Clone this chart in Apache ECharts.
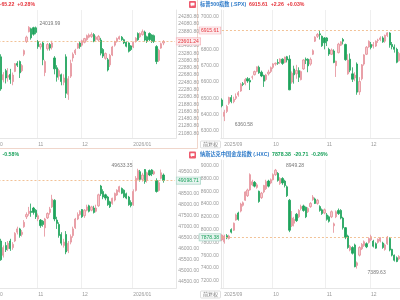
<!DOCTYPE html>
<html><head><meta charset="utf-8">
<script src="https://cdn.jsdelivr.net/npm/echarts@6/dist/echarts.min.js"></script>
<style>html,body{margin:0;padding:0;background:#fff;width:400px;height:300px;overflow:hidden;position:relative}
#c{position:absolute;left:-40px;top:0;width:460px;height:300px}</style>
</head><body><div id="c"></div>
<script>
// ---- trading calendar ----
const SEP = [2,3,4,5,8,9,10,11,12,15,16,17,18,19,22,23,24,25,26,29,30];
const OCT = [1,2,3,6,7,8,9,10,13,14,15,16,17,20,21,22,23,24,27,28,29,30,31];
const NOV = [3,4,5,6,7,10,11,12,13,14,17,18,19,20,21,24,25,26,28];
const DEC = [1,2,3,4,5,8,9,10,11,12,15,16,17,18,19,22,23,24,26,29,30,31];
const JAN = [2,5,6,7,8,9,12,13,14,15,16,20,21,22];
function days(ym, list){ return list.map(d => ym + '/' + String(d).padStart(2,'0')); }
const leftDates = ['2025/09/30'].concat(days('2025/10',OCT), days('2025/11',NOV), days('2025/12',DEC), days('2026/01',JAN));
const rightDates = ['2025/08/29'].concat(days('2025/09',SEP), days('2025/10',OCT), days('2025/11',NOV), days('2025/12',DEC.slice(0,13)));

// ---- Nasdaq Composite (.IXIC) [open, close, low, high], from 2025/10/10 ----
const ixicFirst = '2025/10/10';
const ixicOHLC = [
[23180,22300,22250,23250],[22550,22690,22480,22760],[22800,22600,22450,22850],[22620,22670,22500,22870],
[22700,22560,22440,22850],[22500,22680,22400,22750],[22780,22990,22760,23010],[23000,22950,22900,23060],
[23050,22740,22600,23080],[22800,22940,22760,22980],[23250,23350,23200,23380],[23600,23720,23560,23760],
[23870,23990,23850,24019.99],[23950,23700,23650,23980],[23980,23800,23760,24005],[23975,23850,23800,24010],
[23600,23460,23400,23640],[23450,23520,23380,23560],[23560,23100,22950,23600],[22750,23050,22650,23100],
[23400,23520,23350,23560],[23520,23420,23350,23560],[23440,23560,23380,23620],[23150,22850,22700,23200],
[22880,22620,22500,22950],[22650,22800,22550,22850],[22690,22500,22400,22720],[22480,22600,22400,22700],
[23180,22180,22050,23250],[22150,22580,22000,22650],[22650,23000,22600,23100],[23150,23250,23050,23300],
[23280,23360,23230,23400],[23420,23540,23400,23560],[23560,23460,23400,23600],[23500,23620,23460,23650],
[23580,23680,23550,23700],[23650,23760,23620,23790],[23720,23780,23690,23820],[23740,23790,23700,23850],
[23790,23610,23580,23830],[23660,23720,23620,23760],[23640,23740,23600,23780],[23640,23280,23220,23700],
[23380,23200,23150,23420],[23140,23270,23100,23300],[23100,22820,22780,23150],[22960,23220,22900,23260],
[23230,23450,23200,23480],[23500,23590,23460,23620],[23600,23680,23570,23710],[23670,23730,23650,23760],
[23720,23650,23620,23750],[23650,23560,23530,23680],[23580,23470,23440,23600],[23560,23330,23300,23580],
[23480,23380,23340,23500],[23450,23580,23420,23600],[23600,23690,23570,23720],[23820,23650,23620,23850],
[23730,23820,23700,23850],[23790,23870,23760,23930],[23860,23640,23600,23900],[23730,23600,23560,23760],
[23820,23650,23610,23850],[23780,23600,23560,23800],[23760,23600,23560,23790],[23460,23050,22980,23500],
[23080,23360,23040,23400],[23420,23540,23400,23570],[23560,23601.24,23500,23640]
];
const ixicTicks = [21080.8,21280.8,21480.8,21680.8,21880.8,22080.8,22280.8,22480.8,22680.8,22880.8,23080.8,23280.8,23480.8,23680.8,23880.8,24080.8,24280.8];

// ---- Dow Jones (.DJI), from 2025/10/10 ----
const djiFirst = '2025/10/10';
const djiOHLC = [
[46350,45500,45450,46450],[45700,46050,45600,46150],[46150,45950,45850,46300],[46000,46250,45900,46350],
[46350,46000,45900,46450],[46050,46200,45950,46300],[46350,46700,46300,46750],[46750,46900,46650,47000],
[46900,46600,46500,46950],[46650,46750,46550,46850],[47000,47200,46950,47300],[47450,47550,47350,47650],
[47600,47700,47500,47900],[47700,47650,47450,48050],[47850,47650,47550,47900],[47750,47450,47350,47800],
[47350,47500,47250,47600],[47300,47050,46950,47350],[47250,47100,47000,47300],[46950,47350,46550,47400],
[47400,47600,47350,47650],[47650,47800,47550,47900],[47900,48250,47850,48450],[48200,47350,47250,48250],
[47300,47150,46900,47450],[47100,46600,46500,47200],[46650,46250,46150,46750],[46150,46300,46050,46450],
[46650,45850,45750,46800],[45900,46250,45800,46350],[46300,46550,46200,46650],[46600,46900,46500,47000],
[46950,47350,46900,47400],[47350,47550,47300,47650],[47550,47700,47500,47750],[47780,47450,47400,47800],
[47500,47750,47400,47800],[47750,47900,47700,48000],[47950,47700,47650,48000],[47750,47900,47700,47950],
[47850,47650,47600,47950],[47700,47850,47650,48000],[47950,48450,47900,48500],[48850,48500,48400,48900],
[48600,48350,48250,48700],[48450,48300,48200,48500],[48350,48000,47950,48400],[48130,47910,47850,48180],
[48060,48290,48000,48320],[48210,48510,48150,48550],[48440,48660,48400,48700],[48590,48820,48550,48860],
[48740,48520,48480,48780],[48660,48360,48300,48700],[48500,48300,48250,48550],[48350,48000,47950,48400],
[48100,47960,47880,48200],[48000,48600,47950,48700],[48650,49200,48600,49300],[49150,49550,49100,49633.35],
[49500,49150,49050,49580],[49150,49350,49050,49450],[49600,49050,48950,49620],[49100,49450,49000,49500],
[49550,49350,49300,49600],[49580,49400,49300,49620],[49400,49500,49350,49560],[49100,48600,48550,49200],
[48650,49000,48600,49100],[49200,49450,49150,49600],[49350,49098.71,49000,49420]
];
const djiTicks = [44500,45000,45500,46000,46500,47000,47500,48000,48500,49000,49500];

// ---- S&P 500 (.SPX), from 2025/08/29 ----
const spxFirst = '2025/08/29';
const spxOHLC = [
[6490,6455,6445,6500],[6390,6415,6360.58,6430],[6420,6450,6410,6460],[6470,6505,6460,6510],
[6505,6480,6470,6520],[6480,6495,6470,6510],[6500,6512,6490,6530],[6520,6535,6510,6545],
[6545,6587,6540,6595],[6590,6585,6575,6600],[6590,6615,6580,6625],[6620,6606,6595,6630],
[6610,6600,6551,6625],[6630,6631,6615,6640],[6645,6664,6640,6670],[6665,6693,6660,6695],
[6690,6656,6650,6700],[6660,6637,6630,6670],[6640,6605,6570,6645],[6615,6643,6605,6650],
[6650,6661,6640,6675],[6665,6688,6655,6695],[6690,6711,6680,6715],[6710,6715,6700,6720],
[6720,6715,6705,6740],[6720,6740,6710,6745],[6740,6714,6705,6745],[6720,6753,6715,6755],
[6755,6735,6720,6760],[6740,6552,6550,6764],[6600,6654,6590,6665],[6680,6644,6590,6700],
[6650,6671,6620,6705],[6670,6629,6600,6690],[6615,6664,6610,6670],[6680,6735,6675,6740],
[6740,6733,6710,6750],[6740,6699,6660,6745],[6710,6738,6700,6750],[6770,6792,6765,6800],
[6850,6875,6845,6880],[6880,6891,6870,6900],[6895,6890,6860,6915],[6880,6822,6815,6885],
[6870,6840,6800,6875],[6870,6851,6820,6875],[6800,6771,6760,6810],[6770,6796,6765,6805],
[6790,6720,6715,6800],[6700,6728,6631,6730],[6780,6832,6775,6840],[6825,6846,6820,6850],
[6860,6850,6830,6870],[6830,6737,6730,6835],[6650,6734,6645,6770],[6740,6672,6660,6775],
[6650,6617,6600,6690],[6625,6642,6605,6660],[6710,6538,6522,6720],[6540,6603,6521,6630],
[6620,6705,6610,6710],[6710,6766,6700,6770],[6770,6813,6765,6820],[6815,6849,6810,6855],
[6830,6812,6800,6845],[6820,6829,6805,6845],[6820,6850,6815,6855],[6855,6857,6840,6865],
[6860,6870,6850,6880],[6870,6846,6840,6880],[6850,6886,6840,6890],[6885,6901,6875,6905],
[6900,6827,6810,6905],[6830,6816,6800,6845],[6815,6800,6780,6830],[6800,6721,6715,6810],
[6730,6775,6725,6785]
];
const spxTicks = [6300,6400,6500,6600,6700,6800,6900,7000];

// ---- Nasdaq Golden Dragon China (.HXC), from 2025/08/29 ----
const hxcFirst = '2025/08/29';
const hxcOHLC = [
[7837,7915,7820,7925],[7810,7900,7780,7920],[7905,7870,7850,7930],[7860,7900,7845,7920],
[8000,7960,7940,8020],[7990,8100,7980,8110],[8150,8230,8140,8250],[8260,8160,8140,8280],
[8290,8400,8270,8420],[8380,8420,8360,8440],[8460,8590,8450,8600],[8530,8620,8510,8640],
[8620,8860,8610,8880],[8700,8750,8680,8780],[8740,8680,8660,8760],[8660,8700,8640,8730],
[8600,8440,8420,8610],[8500,8570,8480,8590],[8590,8690,8570,8700],[8640,8750,8620,8780],
[8760,8680,8660,8780],[8730,8780,8710,8800],[8780,8860,8770,8880],[8860,8930,8840,8949.28],
[8880,8770,8750,8900],[8720,8800,8700,8820],[8800,8730,8700,8820],[8760,8690,8660,8780],
[8670,8530,8510,8690],[8460,7990,7960,8480],[8060,8180,8040,8290],[8100,8160,8050,8200],
[8240,8140,8120,8260],[8200,8300,8180,8320],[8330,8360,8300,8390],[8370,8300,8280,8390],
[8350,8200,8180,8360],[8280,8330,8260,8350],[8360,8410,8340,8430],[8470,8510,8450,8540],
[8480,8410,8400,8500],[8410,8460,8390,8480],[8360,8300,8280,8380],[8310,8250,8230,8330],
[8260,8310,8240,8330],[8230,8160,8140,8260],[8200,8130,8110,8220],[8200,8280,8180,8300],
[8060,8090,7950,8110],[8200,8280,8180,8300],[8300,8250,8230,8330],[8300,8180,8160,8320],
[8180,8030,8000,8200],[8030,7880,7850,8040],[7900,7720,7700,7920],[7680,7740,7660,7760],
[7720,7630,7610,7740],[7760,7420,7410,7780],[7440,7480,7389.63,7500],[7600,7720,7580,7740],
[7700,7770,7680,7790],[7750,7810,7730,7830],[7780,7730,7710,7800],[7800,7860,7780,7880],
[7840,7890,7820,7920],[7820,7740,7720,7840],[7780,7710,7700,7800],[7800,7850,7780,7860],
[7820,7870,7800,7880],[7790,7720,7700,7810],[7690,7760,7670,7780],[7780,7880,7760,7900],
[7860,7680,7660,7880],[7690,7600,7580,7700],[7600,7520,7500,7610],[7560,7500,7490,7580],
[7540,7580,7520,7600]
];
const hxcTicks = [7200,7400,7600,7800,8000,8200,8400,8600,8800,9000];

// ---- styling ----
const OX = 40; // chart canvas starts 40px left of the page
const RED = '#e5323a', GREEN = '#17a05a', BLUE = '#2a78c8';
const UP_FILL = '#f7c9ce', UP_BORDER = '#e58e98', DOWN = '#1ea35c';
const FONT = 'Liberation Sans, Noto Sans CJK SC, sans-serif';

function padCats(dates, n){ const c = dates.slice(); for (let i=0;i<n;i++) c.push('pad'+i); return c; }
function monthLabels(cats){
  const out = []; let first = true; let prev = null;
  cats.forEach(d => {
    if (d.indexOf('/') < 0) { out.push(''); return; }
    const p = d.split('/'); let lab = '';
    if (prev !== null && p[1] !== prev) { lab = (first || p[1] === '01') ? p[0] + '/' + p[1] : p[1]; first = false; }
    prev = p[1]; out.push(lab);
  });
  return out;
}
function seriesData(cats, first, ohlc){
  const s = cats.indexOf(first); const d = [];
  cats.forEach((c, i) => { const k = i - s; d.push(k >= 0 && k < ohlc.length ? ohlc[k] : '-'); });
  return d;
}

const panels = [
  {cats: padCats(leftDates,5), first: ixicFirst, ohlc: ixicOHLC, ticks: ixicTicks, cur: 23601.24, up: true,
   grid:{left:-18.68+OX, width:194.88, top:10, height:128}, ypos:'right', min:20953.5, max:24464.6, showMax:'right', showMin:null},
  {cats: padCats(rightDates,4), first: spxFirst, ohlc: spxOHLC, ticks: spxTicks, cur: 6915.61, up: true,
   grid:{left:220.8+OX, width:188.7, top:10, height:128}, ypos:'left', min:6257.2, max:7041.0, showMax:null, showMin:'right'},
  {cats: padCats(leftDates,5), first: djiFirst, ohlc: djiOHLC, ticks: djiTicks, cur: 49098.71, up: false,
   grid:{left:-18.68+OX, width:194.88, top:160, height:128}, ypos:'right', min:44214.2, max:50031.8, showMax:'left', showMin:null},
  {cats: padCats(rightDates,4), first: hxcFirst, ohlc: hxcOHLC, ticks: hxcTicks, cur: 7878.38, up: false,
   grid:{left:220.8+OX, width:188.7, top:160, height:128}, ypos:'left', min:7086.0, max:9089.2, showMax:'right', showMin:'right'}
];

const grids = [], xAxes = [], yAxes = [], series = [];
panels.forEach((p, gi) => {
  grids.push(Object.assign({}, p.grid));
  const labels = monthLabels(p.cats);
  xAxes.push({type:'category', gridIndex:gi, data:p.cats, boundaryGap:true,
    axisLine:{show:true, lineStyle:{color:'#e6e6e6', width:1}}, axisTick:{show:false},
    axisLabel:{interval:(i)=>labels[i] !== '', formatter:(v,i)=>labels[i], fontSize:5, color:'#9a9a9a', align:'left', margin:4, fontFamily:FONT},
    splitLine:{show:true, lineStyle:{color:'#efefef', width:1}}});
  const range = p.max - p.min;
  yAxes.push({type:'value', gridIndex:gi, position:p.ypos, min:p.min, max:p.max,
    splitLine:{show:false}, axisTick:{show:false},
    axisLine:{show:true, lineStyle:{color:'#e6e6e6', width:1}},
    axisLabel:{customValues:p.ticks, fontSize:5, color:'#9a9a9a', margin:2, fontFamily:FONT,
      formatter:(v)=> Math.abs(v - p.cur) / range * 128 < 4 ? '' : v.toFixed(2)}});
  const data = seriesData(p.cats, p.first, p.ohlc);
  const mp = [];
  let hiI = -1, hiV = -Infinity, loI = -1, loV = Infinity;
  data.forEach((d, i) => { if (d === '-') return; if (d[3] > hiV) { hiV = d[3]; hiI = i; } if (d[2] < loV) { loV = d[2]; loI = i; } });
  if (p.showMax) mp.push({coord:[p.cats[hiI], hiV], value:hiV, label:{position:p.showMax, distance: p.showMax==='left'?5:10, offset:[0,-3]}});
  if (p.showMin) mp.push({coord:[p.cats[loI], loV], value:loV, label:{position:p.showMin, distance:10, offset:[0,4]}});
  const cc = p.up ? RED : GREEN;
  const isEnd = p.ypos === 'right';
  const firstCat = p.cats[0], lastCat = p.cats[p.cats.length - 1];
  series.push({type:'candlestick', xAxisIndex:gi, yAxisIndex:gi, data:data, barWidth:1.7, animation:false,
    itemStyle:{color:UP_FILL, borderColor:UP_BORDER, color0:DOWN, borderColor0:DOWN, borderWidth:0.8},
    markLine:{silent:true, symbol:['none','none'], animation:false,
      lineStyle:{type:[2,2], color:'#efb27c', width:0.8},
      label:{show:true, position: isEnd ? 'end' : 'start', distance:1.5,
        formatter:()=>p.cur.toFixed(2),
        fontSize:5, fontFamily:FONT, color:cc, backgroundColor: p.up ? '#fdecee' : '#e7f4f0',
        borderColor: p.up ? '#f2aab2' : '#9fd0c0', borderWidth:0.6, padding:[1,1.5,0.5,1.5]},
      data:[[{coord:[firstCat, p.cur]}, {coord:[lastCat, p.cur]}]]},
    markPoint:{symbol:'circle', symbolSize:1, itemStyle:{color:'rgba(0,0,0,0)'}, animation:false,
      label:{show:true, fontSize:5, fontFamily:FONT, color:'#777', formatter:(q)=>Number(q.value).toFixed(2)},
      data:mp}
  });
});

function header(x, y, align, name, nums, col){
  return {type:'text', x:x+OX, y:y, silent:true, style:{
    text:'{n|' + name + '}  {v|' + nums + '}', align:align, verticalAlign:'middle',
    fontSize:5.2, fontWeight:'bold', fontFamily:FONT,
    rich:{n:{fill:BLUE, fontSize:5.2, fontWeight:'bold', fontFamily:FONT}, v:{fill:col, fontSize:5.2, fontWeight:'bold', fontFamily:FONT}}}};
}
function badge(x, y){
  return {type:'group', x:x+OX, y:y, children:[
    {type:'rect', shape:{x:0, y:0, width:7, height:7, r:1}, style:{fill:'#ee5b6e'}},
    {type:'rect', shape:{x:1.5, y:1.8, width:4, height:2.6, r:0.3}, style:{fill:'#fff'}},
    {type:'polygon', shape:{points:[[2.2,4.3],[3.6,4.3],[2.2,5.6]]}, style:{fill:'#fff'}}
  ]};
}
function adjBtn(x, y){
  return {type:'group', x:x+OX, y:y, children:[
    {type:'rect', shape:{x:0, y:0, width:20, height:7, r:1}, style:{fill:'#fff', stroke:'#c9c9c9', lineWidth:0.6}},
    {type:'text', x:10, y:3.7, style:{text:'前复权', align:'center', verticalAlign:'middle', fontSize:5, fill:'#777', fontFamily:FONT}}
  ]};
}

const graphics = [
  header(35, 4.5, 'right', '纳斯达克综合指数 (.IXIC)', '23601.24  +65.22  +0.28%', RED),
  header(200, 4.5, 'left', '标普500指数 (.SPX)', '6915.61  +2.26  +0.03%', RED),
  header(19, 154.5, 'right', '道琼斯指数 (.DJI)', '49098.71  -286.33  -0.58%', GREEN),
  header(200, 154.5, 'left', '纳斯达克中国金龙指数 (.HXC)', '7878.38  -20.71  -0.26%', GREEN),
  badge(189, 1), badge(189, 151.5),
  adjBtn(200.5, 141), adjBtn(200.5, 291),
  {type:'line', shape:{x1:OX, y1:148.5, x2:197.5+OX, y2:148.5}, style:{stroke:'#f0d6cb', lineWidth:1}},
  {type:'line', shape:{x1:197.5+OX, y1:0, x2:197.5+OX, y2:148.5}, style:{stroke:'#f0d6cb', lineWidth:1}}
];

const chart = echarts.init(document.getElementById('c'), null, {renderer:'canvas'});
chart.setOption({animation:false, backgroundColor:'#ffffff', grid:grids, xAxis:xAxes, yAxis:yAxes, series:series, graphic:graphics});
</script></body></html>
